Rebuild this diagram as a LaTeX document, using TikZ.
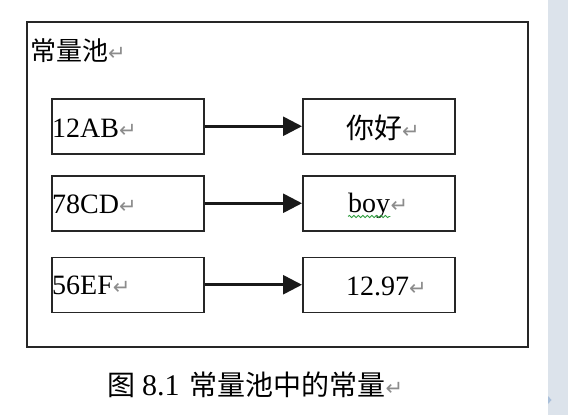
\documentclass[tikz,border=0pt]{standalone}
\usepackage{fontspec}
\setmainfont{Liberation Serif}
\newfontfamily\cjk{Noto Sans CJK SC}
\newfontfamily\dejavu{DejaVu Sans}
\usetikzlibrary{arrows.meta,decorations.pathmorphing}
\definecolor{stripcol}{HTML}{DCE3EB}
\definecolor{tabcol}{HTML}{A9BFDA}
\definecolor{wavygreen}{HTML}{2E9E3E}
\newcommand\retmark{{\color{black!45}\dejavu\fontsize{21}{21}\selectfont ↵}}
\tikzset{
  framebox/.style={draw=black!85,line width=1.6pt},
  cellbox/.style={draw=black!85,line width=1.5pt,rectangle,minimum width=152pt,minimum height=55pt,inner sep=0pt,anchor=north west},
  lbl/.style={inner sep=0pt,anchor=base west,font=\fontsize{28}{30}\selectfont},
  cjklbl/.style={inner sep=0pt,anchor=base west,font=\cjk\fontsize{28}{30}\selectfont},
  link/.style={line width=2.6pt,black!90,-{Triangle[length=19pt,width=19pt]}},
}
\begin{document}
\begin{tikzpicture}[x=1pt,y=-1pt]
\useasboundingbox (0,0) rectangle (568,415);
\fill[white] (0,0) rectangle (568,415);
\fill[stripcol] (548,0) rectangle (568,415);
\fill[tabcol] (548,396) -- (551.5,400) -- (548,404) -- cycle;
% outer frame
\node[framebox,rectangle,minimum width=501pt,minimum height=325pt,inner sep=0pt,anchor=north west] (pool) at (26,21) {};
\node[inner sep=0pt,anchor=base west,font=\cjk\fontsize{26}{28}\selectfont] (title) at (30,60) {常量池\retmark};
% left boxes
\node[cellbox] (l1) at (51,98) {};
\node[cellbox] (l2) at (51,175) {};
\node[cellbox] (l3) at (51,256.5) {};
% right boxes
\node[cellbox] (r1) at (302,98) {};
\node[cellbox] (r2) at (302,175) {};
\node[cellbox] (r3) at (302,256.5) {};
% labels
\node[lbl] (t1) at (52,137) {12AB\retmark};
\node[lbl] (t2) at (52,213) {78CD\retmark};
\node[lbl] (t3) at (52,294) {56EF\retmark};
\node[cjklbl] (u1) at (346,138) {你好\retmark};
\node[lbl] (boy) at (348,212) {boy};
\node[inner sep=0pt,anchor=base west] (u2r) at (boy.base east) {\retmark};
\node[lbl] (u3) at (346,295) {12.97\retmark};
\draw[wavygreen,line width=0.8pt,decorate,decoration={snake,amplitude=1.1pt,segment length=4.5pt}]
  ([yshift=-4.5pt]boy.base west) -- ([yshift=-4.5pt]boy.base east);
% arrows
\draw[link] (l1.east) -- (r1.west);
\draw[link] (l2.east) -- (r2.west);
\draw[link] (l3.east) -- (r3.west);
% caption
\node[inner sep=0pt,anchor=base west,font=\fontsize{28}{30}\selectfont] (cap) at (107,395)
  {{\cjk 图} {\fontsize{30}{30}\selectfont 8.1}\hspace{10pt}{\cjk 常量池中的常量}\retmark};
\end{tikzpicture}
\end{document}
